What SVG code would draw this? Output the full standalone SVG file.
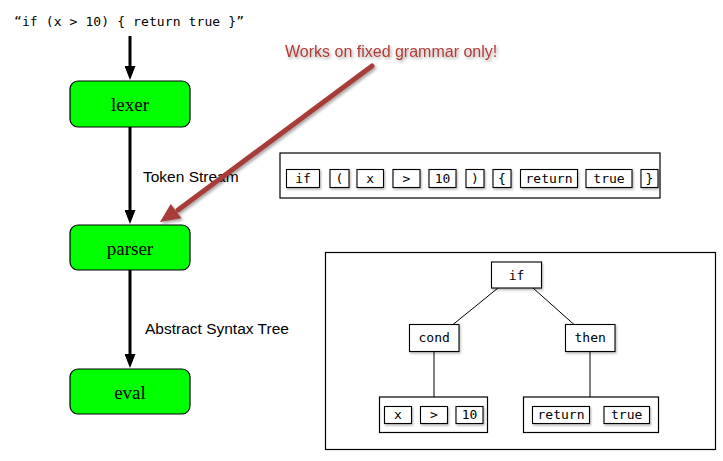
<svg xmlns="http://www.w3.org/2000/svg" width="723" height="461" viewBox="0 0 723 461">
<defs>
<marker id="arr" markerUnits="userSpaceOnUse" viewBox="0 0 14 11" markerWidth="14" markerHeight="11" refX="4" refY="5.5" orient="auto">
<path d="M0,0 L14,5.5 L0,11 z" fill="#000"/>
</marker>
<filter id="sh" x="-20%" y="-20%" width="150%" height="160%">
<feDropShadow dx="1" dy="1.5" stdDeviation="1" flood-color="#000" flood-opacity="0.3"/>
</filter>
<filter id="rsh" x="-20%" y="-20%" width="150%" height="150%">
<feDropShadow dx="1.5" dy="2" stdDeviation="1.5" flood-color="#000" flood-opacity="0.35"/>
</filter>
</defs>
<style>
.mono{font-family:"DejaVu Sans Mono","Liberation Mono",monospace;font-size:13px;fill:#000}
.sans{font-family:"Liberation Sans",Arial,sans-serif;font-size:15.5px;fill:#000}
.serif{font-family:"Liberation Serif","Times New Roman",serif;font-size:19px;fill:#000;text-anchor:middle}
.stage{fill:#00ff00;stroke:#000;stroke-width:1.2}
.frame{fill:#fff;stroke:#000;stroke-width:1.2}
.tok{fill:#fff;stroke:#000;stroke-width:1.1;filter:url(#sh)}
.tc{text-anchor:middle}
.flow{stroke:#000;stroke-width:3;fill:none;marker-end:url(#arr)}
.tree{stroke:#000;stroke-width:1;fill:none}
</style>
<rect width="723" height="461" fill="#fff"/>

<g id="source">
<text class="mono" x="14" y="26" textLength="230">“if (x &gt; 10) { return true }”</text>
</g>

<g id="lexer">
<rect class="stage" x="70" y="81" width="120" height="46" rx="8"/>
<text class="serif" x="130" y="111">lexer</text>
</g>
<g id="parser">
<rect class="stage" x="70" y="225" width="120" height="45" rx="8"/>
<text class="serif" x="130" y="255">parser</text>
</g>
<g id="eval">
<rect class="stage" x="70" y="369" width="120" height="45" rx="8"/>
<text class="serif" x="130" y="399">eval</text>
</g>

<g id="token-stream">
<rect class="frame" x="280" y="153" width="380" height="45"/>
<rect class="tok" x="286.5" y="169.5" width="33" height="18"/><text class="mono tc" x="303" y="183">if</text>
<rect class="tok" x="330" y="169.5" width="19" height="18"/><text class="mono tc" x="339.5" y="183">(</text>
<rect class="tok" x="357" y="169.5" width="26.5" height="18"/><text class="mono tc" x="370.2" y="183">x</text>
<rect class="tok" x="393" y="169.5" width="27" height="18"/><text class="mono tc" x="406.5" y="183">&gt;</text>
<rect class="tok" x="429" y="169.5" width="27" height="18"/><text class="mono tc" x="442.5" y="183">10</text>
<rect class="tok" x="466" y="169.5" width="18" height="18"/><text class="mono tc" x="475" y="183">)</text>
<rect class="tok" x="493" y="169.5" width="18" height="18"/><text class="mono tc" x="502" y="183">{</text>
<rect class="tok" x="520.5" y="169.5" width="57" height="18"/><text class="mono tc" x="549" y="183">return</text>
<rect class="tok" x="586" y="169.5" width="46" height="18"/><text class="mono tc" x="609" y="183">true</text>
<rect class="tok" x="641" y="169.5" width="17" height="18"/><text class="mono tc" x="649.5" y="183">}</text>
</g>

<g id="ast">
<rect class="frame" x="325.5" y="252.5" width="390" height="197"/>
<g id="ast-if">
<rect class="tok" x="491.5" y="262" width="50" height="26"/><text class="mono tc" x="516.5" y="279.5">if</text>
</g>
<g id="ast-cond">
<rect class="tok" x="409.5" y="324.5" width="49.5" height="27"/><text class="mono tc" x="434.2" y="342">cond</text>
</g>
<g id="ast-then">
<rect class="tok" x="565.5" y="324.5" width="49.5" height="27"/><text class="mono tc" x="590.2" y="342">then</text>
</g>
<g id="ast-cond-tokens">
<rect class="frame" x="379.5" y="397" width="108" height="35.5"/>
<rect class="tok" x="384.5" y="406.5" width="27" height="17"/><text class="mono tc" x="398" y="419">x</text>
<rect class="tok" x="420.5" y="406.5" width="27" height="17"/><text class="mono tc" x="434" y="419">&gt;</text>
<rect class="tok" x="456" y="406.5" width="27" height="17"/><text class="mono tc" x="469.5" y="419">10</text>
</g>
<g id="ast-then-tokens">
<rect class="frame" x="523.5" y="397" width="135" height="35.5"/>
<rect class="tok" x="532.5" y="406.5" width="57" height="17"/><text class="mono tc" x="561" y="419">return</text>
<rect class="tok" x="604" y="406.5" width="45.5" height="17"/><text class="mono tc" x="626.7" y="419">true</text>
</g>
</g>

<g id="connectors">
<line class="flow" x1="130" y1="36" x2="130" y2="70"/>
<line class="flow" x1="130" y1="127" x2="130" y2="214"/>
<line class="flow" x1="130" y1="270" x2="130" y2="358"/>
<text class="sans" x="143" y="182">Token Stream</text>
<text class="sans" x="145" y="334">Abstract Syntax Tree</text>
<line class="tree" x1="498" y1="288" x2="453" y2="324.5"/>
<line class="tree" x1="533" y1="288" x2="574" y2="324.5"/>
<line class="tree" x1="434" y1="351.5" x2="434" y2="397"/>
<line class="tree" x1="590" y1="351.5" x2="590" y2="397"/>
</g>

<g id="annotation" filter="url(#rsh)">
<line x1="372" y1="66" x2="178" y2="210" stroke="#a63d38" stroke-width="5" stroke-linecap="round"/>
<polygon points="160,222 181.5,218.3 170.7,203.9" fill="#a63d38"/>
<text x="285" y="57" font-family="'Liberation Sans',Arial,sans-serif" font-size="16" fill="#b23b36">Works on fixed grammar only!</text>
</g>
</svg>
